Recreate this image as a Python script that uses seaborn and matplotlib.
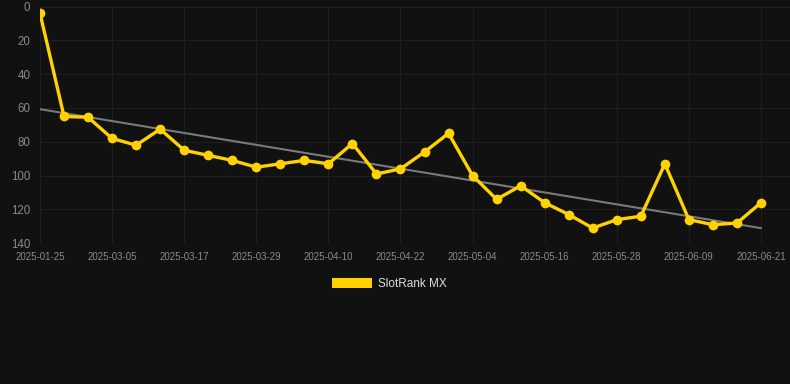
import numpy as np
import matplotlib
matplotlib.use("Agg")
import matplotlib.pyplot as plt
from matplotlib.patches import Patch
import seaborn as sns

# rank per observation (lower is better, axis inverted)
ranks = [4, 65, 65.5, 78, 82, 72.5, 85, 88, 91, 95, 93, 91, 93, 81, 99,
         96, 86, 75, 100, 114, 106, 116, 123, 131, 126, 124, 93, 126, 129, 128, 116]
idx = list(range(len(ranks)))
tick_labels = ['2025-01-25', '2025-03-05', '2025-03-17', '2025-03-29', '2025-04-10',
               '2025-04-22', '2025-05-04', '2025-05-16', '2025-05-28', '2025-06-09',
               '2025-06-21']
tick_pos = idx[::3]

bg = '#111111'
grid_c = '#1f1f1f'
yellow = '#ffd200'

sns.set_theme(style='dark')
plt.rcParams['font.family'] = ['Liberation Sans', 'DejaVu Sans']

fig = plt.figure(figsize=(7.9, 3.84), dpi=100, facecolor=bg)
ax = fig.add_axes([40 / 790, 1 - 243.3 / 384, 750 / 790, (243.3 - 6.5) / 384])
ax.set_facecolor(bg)

# trend line (linear fit)
sns.regplot(x=idx, y=ranks, scatter=False, ci=None, ax=ax,
            line_kws=dict(color='#7a7a7a', lw=1.5, zorder=2))
sns.lineplot(x=idx, y=ranks, ax=ax, color=yellow, lw=2.4, marker='o',
             markersize=7, markeredgewidth=0, zorder=3)

ax.set_ylim(140, 0)
ax.set_xlim(0, 30 + 29 / 24.03)
ax.set_yticks(range(0, 141, 20))
ax.set_xticks(tick_pos)
ax.set_xticklabels(tick_labels)
ax.grid(True, color=grid_c, lw=0.8)
for s in ax.spines.values():
    s.set_visible(False)
ax.tick_params(axis='x', colors=grid_c, length=3, width=0.8, pad=3,
               labelcolor='#8a8a8a', labelsize=7)
ax.tick_params(axis='y', colors=grid_c, length=3, width=0.8, pad=4,
               labelcolor='#8a8a8a', labelsize=8.3)
ax.set_xlabel('')
ax.set_ylabel('')

fig.legend(handles=[Patch(facecolor=yellow, edgecolor='none', label='SlotRank MX')],
           loc='center', bbox_to_anchor=(389 / 790, 1 - 284 / 384), frameon=False,
           fontsize=8.5, labelcolor='#dddddd', handlelength=3.4, handleheight=1.0,
           handletextpad=0.5)

fig.savefig('out.png', dpi=100, facecolor=bg)
